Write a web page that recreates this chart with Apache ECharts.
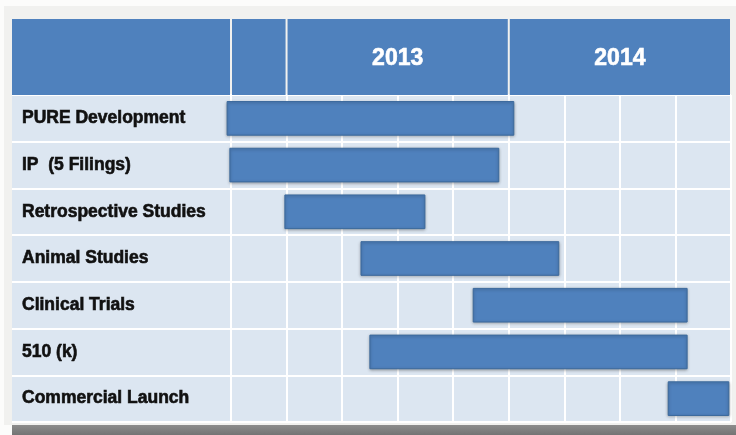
<!DOCTYPE html>
<html>
<head>
<meta charset="utf-8">
<script src="https://cdn.jsdelivr.net/npm/echarts@6/dist/echarts.min.js"></script>
<style>
  html, body { margin: 0; padding: 0; background: #fcfcfb; }
  #chart { width: 736px; height: 435px; }
</style>
</head>
<body>
<div id="chart"></div>
<script>
// Project schedule, measured in quarters (0 = start of Q4 2012)
const tasks = ['PURE Development', 'IP  (5 Filings)', 'Retrospective Studies', 'Animal Studies',
               'Clinical Trials', '510 (k)', 'Commercial Launch'];
const taskStart = [-0.07, -0.02, 0.97, 2.34, 4.36, 2.50, 7.87];
const taskEnd   = [5.09, 4.82, 3.49, 5.90, 8.21, 8.21, 8.96];

// Header periods on the same quarter scale
const periodStart  = [0, 1, 5];
const periodEnd    = [1, 5, 9];
const periodLabels = ['', '2013', '2014'];
const QUARTERS = 9;

// Table layout (pixels)
const T = { left: 12, labelW: 219, top: 19, headH: 76, plotW: 500, bodyH: 327 };
const bodyTop = T.top + T.headH;
const plotLeft = T.left + T.labelW;

const BLUE = '#4f81bd';
const CELL = '#dce6f1';
const FONT = '"Liberation Sans", Arial, sans-serif';

const chart = echarts.init(document.getElementById('chart'), null, { renderer: 'canvas' });

chart.setOption({
  animation: false,
  graphic: [
    // light frame behind the table
    { type: 'rect', z: -10, shape: { x: 4, y: 6, width: 732, height: bodyTop + T.bodyH + 3 - 6 },
      style: { fill: '#f1f1ef' } },
    // dark drop shadow under the table
    { type: 'rect', z: -10, shape: { x: T.left, y: bodyTop + T.bodyH + 3, width: 736 - T.left, height: 12 },
      style: { fill: new echarts.graphic.LinearGradient(0, 0, 0, 1, [
        { offset: 0, color: '#8c8c8c' }, { offset: 1, color: '#6f6f6f' }]) } },
    // header cell above the task names
    { type: 'rect', z: 5, shape: { x: T.left, y: T.top, width: T.labelW - 1, height: T.headH },
      style: { fill: BLUE } }
  ],
  grid: [
    { left: T.left, top: bodyTop, width: T.labelW, height: T.bodyH, show: true,
      backgroundColor: CELL, borderWidth: 0 },
    { left: plotLeft, top: bodyTop, width: T.plotW, height: T.bodyH, show: true,
      backgroundColor: CELL, borderWidth: 0 },
    { left: plotLeft, top: T.top, width: T.plotW, height: T.headH, show: false }
  ],
  xAxis: [
    { gridIndex: 0, type: 'value', min: 0, max: 1, show: false },
    { gridIndex: 1, type: 'value', min: 0, max: QUARTERS, interval: 1,
      axisLine: { show: false }, axisTick: { show: false }, axisLabel: { show: false },
      splitLine: { show: true, lineStyle: { color: '#ffffff', width: 2 } } },
    { gridIndex: 2, type: 'value', min: 0, max: QUARTERS, show: false }
  ],
  yAxis: [
    { gridIndex: 0, type: 'category', data: tasks, inverse: true,
      axisLine: { show: false }, axisTick: { show: false },
      axisLabel: { inside: true, margin: 10, color: '#111', fontWeight: 'bold',
                   fontSize: 17.5, fontFamily: FONT, padding: [4, 0, 0, 0],
                   textBorderColor: '#111', textBorderWidth: 0.6 },
      splitLine: { show: true, lineStyle: { color: '#ffffff', width: 2 } } },
    { gridIndex: 1, type: 'category', data: tasks, inverse: true,
      axisLine: { show: false }, axisTick: { show: false }, axisLabel: { show: false },
      splitLine: { show: true, lineStyle: { color: '#ffffff', width: 2 } } },
    { gridIndex: 2, type: 'value', min: 0, max: 1, show: false }
  ],
  series: [
    {
      // year header cells
      type: 'custom', xAxisIndex: 2, yAxisIndex: 2, z: 5,
      data: periodLabels.map((lab, i) => [periodStart[i], periodEnd[i], lab]),
      renderItem: function (params, api) {
        const p0 = api.coord([api.value(0), 1]);
        const p1 = api.coord([api.value(1), 0]);
        return {
          type: 'group',
          children: [
            { type: 'rect', shape: { x: p0[0] + 1, y: p0[1], width: p1[0] - p0[0] - 2, height: p1[1] - p0[1] },
              style: { fill: BLUE } },
            { type: 'text', style: {
                x: (p0[0] + p1[0]) / 2, y: (p0[1] + p1[1]) / 2 + 2,
                text: periodLabels[params.dataIndex], fill: '#ffffff',
                stroke: '#ffffff', lineWidth: 0.6,
                shadowBlur: 2, shadowColor: 'rgba(0,0,0,0.35)', shadowOffsetY: 1,
                font: 'bold 23px ' + FONT, align: 'center', verticalAlign: 'middle' } }
          ]
        };
      }
    },
    {
      // task bars
      type: 'custom', xAxisIndex: 1, yAxisIndex: 1, z: 10,
      encode: { x: [1, 2], y: 0 },
      data: tasks.map((t, i) => [i, taskStart[i], taskEnd[i]]),
      renderItem: function (params, api) {
        const cat = api.value(0);
        const s = api.coord([api.value(1), cat]);
        const e = api.coord([api.value(2), cat]);
        const h = api.size([0, 1])[1] * 0.72;
        return {
          type: 'rect',
          shape: { x: s[0], y: s[1] - h / 2, width: e[0] - s[0], height: h },
          style: { fill: BLUE, stroke: '#3b699c', lineWidth: 1,
                   shadowBlur: 3, shadowOffsetY: 1, shadowColor: 'rgba(0,0,0,0.3)' }
        };
      }
    }
  ]
});
</script>
</body>
</html>
